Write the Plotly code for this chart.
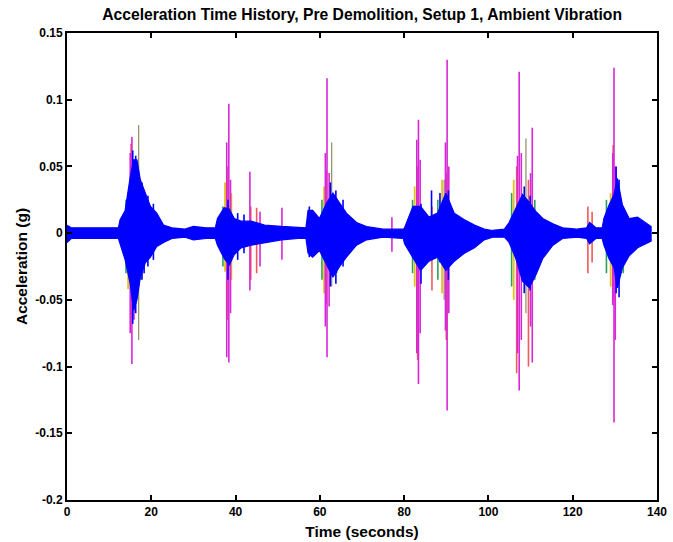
import plotly.graph_objects as go

# ---------------- data ----------------
# Blue channel envelope: time (s), upper and lower acceleration (g)
blue_t = [0, 1, 3, 12.2, 12.6, 13.8, 15.0, 15.8, 16.6, 17.4, 18.6, 19.8, 21.3, 22.9, 24.9,
          28, 30, 33, 35.2, 35.7, 37.3, 38.5, 39.7, 41.3, 43.7, 46.9, 50.9, 54.9,
          56.7, 57.2, 58.3, 59.9, 61.5, 63.1, 64.7, 66.3, 68.7, 71.1, 75,
          79.8, 80.1, 82.1, 83.9, 85.9, 87.9, 89.9, 91.9, 94.3, 96.7, 99.0, 101,
          103.8, 104.9, 106.5, 108.1, 109.7, 111.3, 112.9, 115.3, 117.6, 121,
          123.3, 124, 125.5, 127, 127.4, 128.6, 129.8, 130.6, 131.8, 133.4, 135.4, 137.4, 138.6]
blue_up = [0.006, 0.004, 0.004, 0.004, 0.010, 0.017, 0.042, 0.055, 0.055, 0.040, 0.030, 0.020, 0.015, 0.006, 0.004,
           0.003, 0.005, 0.004, 0.004, 0.011, 0.019, 0.018, 0.011, 0.009, 0.009, 0.006, 0.005, 0.004,
           0.004, 0.017, 0.017, 0.011, 0.022, 0.030, 0.022, 0.015, 0.008, 0.005, 0.003,
           0.003, 0.004, 0.020, 0.020, 0.012, 0.015, 0.030, 0.015, 0.010, 0.006, 0.003, 0.002,
           0.003, 0.008, 0.019, 0.029, 0.023, 0.016, 0.011, 0.007, 0.004, 0.003,
           0.004, 0.008, 0.004, 0.004, 0.011, 0.021, 0.029, 0.041, 0.021, 0.011, 0.012, 0.008, 0.005]
blue_lo = [-0.007, -0.004, -0.004, -0.004, -0.008, -0.020, -0.038, -0.058, -0.050, -0.033, -0.022, -0.018, -0.010, -0.007, -0.004,
           -0.003, -0.005, -0.004, -0.004, -0.009, -0.019, -0.024, -0.016, -0.011, -0.009, -0.007, -0.005, -0.004,
           -0.004, -0.015, -0.018, -0.013, -0.023, -0.033, -0.025, -0.018, -0.009, -0.005, -0.003,
           -0.004, -0.008, -0.018, -0.028, -0.021, -0.018, -0.028, -0.021, -0.015, -0.011, -0.005, -0.003,
           -0.003, -0.007, -0.019, -0.036, -0.041, -0.031, -0.019, -0.009, -0.004, -0.003,
           -0.004, -0.008, -0.004, -0.004, -0.009, -0.019, -0.026, -0.041, -0.026, -0.017, -0.011, -0.008, -0.006]

# Blue spikes (time, peak, trough)
blue_spk_t = [15.6, 16.3, 17.8, 18.3, 19.2, 20.5, 38.2, 40.5, 42.0, 57.5, 62.5, 63.8, 65.5,
              84.0, 86.5, 88.5, 90.5, 108.5, 109.9, 130.3, 131.0]
blue_spk_hi = [0.062, 0.058, 0.038, 0.032, 0.028, 0.022, 0.025, 0.015, 0.014, 0.020, 0.038, 0.032, 0.025,
               0.022, 0.032, 0.030, 0.032, 0.035, 0.028, 0.050, 0.040]
blue_spk_lo = [-0.068, -0.060, -0.035, -0.030, -0.025, -0.020, -0.035, -0.020, -0.015, -0.018, -0.040, -0.038, -0.025,
               -0.038, -0.020, -0.022, -0.035, -0.045, -0.043, -0.045, -0.048]

# Magenta spikes
mag_t = [15.4, 15.0, 15.9, 38.4, 37.9, 38.8, 43.4, 45.8, 51.0, 61.7, 61.3, 62.2, 77.1,
         83.4, 83.0, 83.8, 90.2, 89.8, 90.6, 107.3, 106.9, 107.8, 110.4, 110.0, 129.8, 129.5, 130.1]
mag_hi = [0.072, 0.060, 0.050, 0.097, 0.068, 0.040, 0.046, 0.016, 0.019, 0.116, 0.060, 0.045, 0.012,
          0.085, 0.070, 0.055, 0.130, 0.068, 0.050, 0.121, 0.058, 0.060, 0.079, 0.045, 0.124, 0.060, 0.050]
mag_lo = [-0.098, -0.075, -0.065, -0.097, -0.093, -0.060, -0.043, -0.025, -0.020, -0.093, -0.070, -0.055, -0.014,
          -0.113, -0.090, -0.075, -0.133, -0.073, -0.060, -0.118, -0.090, -0.080, -0.097, -0.070, -0.142, -0.054, -0.080]

# Red spikes
red_t = [15.2, 16.0, 38.0, 45.0, 43.6, 61.5, 86.6, 83.2, 90.0, 106.7, 109.5, 123.6, 124.6, 129.6]
red_hi = [0.067, 0.045, 0.050, 0.019, 0.020, 0.047, 0.020, 0.050, 0.045, 0.050, 0.040, 0.020, 0.016, 0.066]
red_lo = [-0.063, -0.050, -0.065, -0.030, -0.035, -0.053, -0.043, -0.095, -0.080, -0.105, -0.100, -0.030, -0.022, -0.050]

# Olive / gray spikes
gray_t = [17.0, 62.8, 108.9, 89.5]
gray_hi = [0.081, 0.068, 0.071, 0.040]
gray_lo = [-0.080, -0.040, -0.060, -0.050]

# Yellow spikes
yel_t = [14.5, 16.3, 37.5, 39.0, 61.0, 82.5, 89.0, 106.0, 129.0]
yel_hi = [0.030, 0.035, 0.038, 0.030, 0.035, 0.035, 0.040, 0.040, 0.030]
yel_lo = [-0.042, -0.040, -0.029, -0.035, -0.045, -0.040, -0.045, -0.050, -0.040]

# Green / cyan spikes
grn_t = [14.0, 17.5, 37.0, 60.5, 64.0, 82.0, 88.0, 105.5, 111.0, 128.0, 132.0]
grn_hi = [0.025, 0.030, 0.020, 0.025, 0.020, 0.025, 0.025, 0.030, 0.025, 0.025, 0.020]
grn_lo = [-0.030, -0.035, -0.025, -0.035, -0.030, -0.030, -0.035, -0.040, -0.035, -0.030, -0.030]

x_ticks = [0, 20, 40, 60, 80, 100, 120, 140]
y_ticks = [0.15, 0.1, 0.05, 0, -0.05, -0.1, -0.15, -0.2]
y_tick_text = ["0.15", "0.1", "0.05", "0", "-0.05", "-0.1", "-0.15", "-0.2"]


def spikes(ts, his, los):
    xs, ys = [], []
    for t, h, l in zip(ts, his, los):
        xs += [t, t, None]
        ys += [h, l, None]
    return xs, ys


fig = go.Figure()

for ts, his, los, col, w in [
    (grn_t, grn_hi, grn_lo, "rgb(40,160,90)", 1.6),
    (yel_t, yel_hi, yel_lo, "rgb(230,190,30)", 1.8),
    (red_t, red_hi, red_lo, "rgb(240,90,90)", 1.6),
    (gray_t, gray_hi, gray_lo, "rgb(150,150,110)", 1.3),
    (mag_t, mag_hi, mag_lo, "rgb(215,40,215)", 1.6),
]:
    xs, ys = spikes(ts, his, los)
    fig.add_trace(go.Scatter(x=xs, y=ys, mode="lines",
                             line=dict(color=col, width=w), hoverinfo="skip"))

# blue envelope as a filled band
fig.add_trace(go.Scatter(x=blue_t + blue_t[::-1], y=blue_up + blue_lo[::-1],
                         mode="lines", fill="toself", fillcolor="rgb(0,0,255)",
                         line=dict(color="rgb(0,0,255)", width=1.2), hoverinfo="skip"))
xs, ys = spikes(blue_spk_t, blue_spk_hi, blue_spk_lo)
fig.add_trace(go.Scatter(x=xs, y=ys, mode="lines",
                         line=dict(color="rgb(0,0,255)", width=1.6), hoverinfo="skip"))

font_family = "Liberation Sans, Arial, sans-serif"
axis_common = dict(showline=True, linecolor="black", linewidth=2, mirror="ticks",
                   ticks="inside", ticklen=5, tickwidth=2, tickcolor="black",
                   showgrid=False, zeroline=False, automargin=False,
                   tickfont=dict(family=font_family, size=12, color="black", weight="bold"))

fig.update_layout(
    width=673, height=542,
    margin=dict(l=67, r=16, t=33, b=42),
    paper_bgcolor="white", plot_bgcolor="white",
    showlegend=False,
    hovermode=False,
    title=dict(text="Acceleration Time History, Pre Demolition, Setup 1, Ambient Vibration",
               x=0.538, xanchor="center", y=0.974, yanchor="middle", automargin=False,
               font=dict(family=font_family, size=15.7, color="black", weight="bold")),
    xaxis=dict(range=[0, 140], tickvals=x_ticks, ticktext=[str(v) for v in x_ticks],
               title=dict(text="Time (seconds)", standoff=8,
                          font=dict(family=font_family, size=15.5, color="black", weight="bold")),
               **axis_common),
    yaxis=dict(range=[-0.2, 0.15], tickvals=y_ticks, ticktext=y_tick_text,
               title=dict(text="Acceleration (g)", standoff=4,
                          font=dict(family=font_family, size=15.5, color="black", weight="bold")),
               **axis_common),
)

# remove the default page margin so the 673x542 figure fills the window exactly
fig.write_html("out.html", config={"displayModeBar": False},
               post_script="document.body.style.margin='0';")
